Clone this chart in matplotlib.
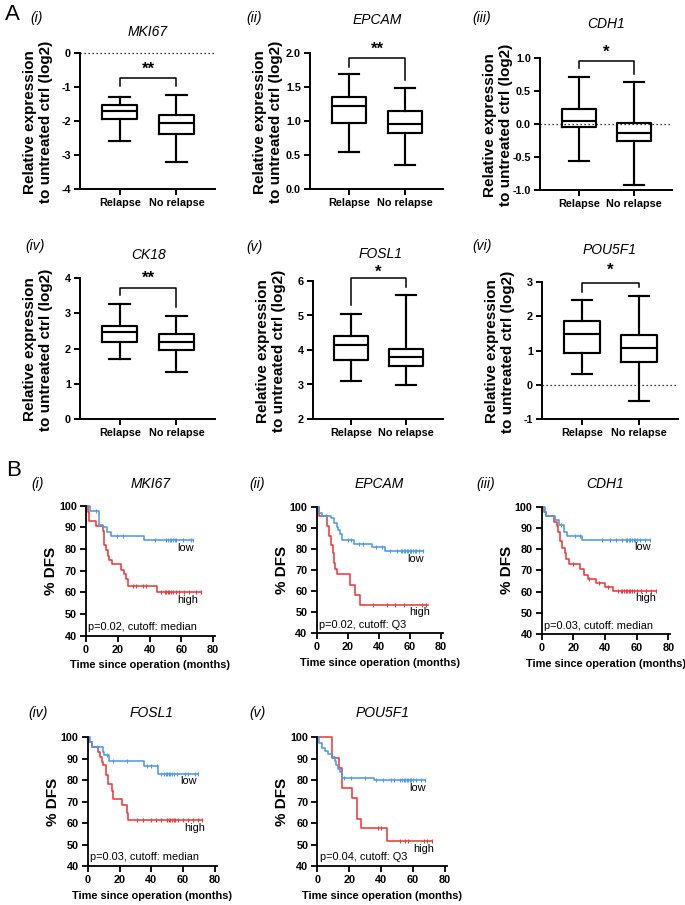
import matplotlib
matplotlib.use('Agg')
import matplotlib.pyplot as plt
from matplotlib.ticker import FormatStrFormatter
import numpy as np

plt.rcParams['font.family'] = ['Liberation Sans', 'DejaVu Sans']
plt.rcParams['axes.unicode_minus'] = False

# ---- panel A: box stats (whisker low, q1, median, q3, whisker high)
box_genes = ['MKI67', 'EPCAM', 'CDH1', 'CK18', 'FOSL1', 'POU5F1']
box_roman = ['(i)', '(ii)', '(iii)', '(iv)', '(v)', '(vi)']
groups = ['Relapse', 'No relapse']

relapse_mki67 = [-2.60, -1.95, -1.72, -1.52, -1.28]
norelapse_mki67 = [-3.20, -2.37, -2.05, -1.83, -1.23]
relapse_epcam = [0.54, 0.97, 1.22, 1.36, 1.69]
norelapse_epcam = [0.36, 0.83, 0.95, 1.14, 1.48]
relapse_cdh1 = [-0.56, -0.04, 0.05, 0.22, 0.71]
norelapse_cdh1 = [-0.92, -0.26, -0.13, 0.01, 0.63]
relapse_ck18 = [1.70, 2.19, 2.46, 2.65, 3.26]
norelapse_ck18 = [1.33, 1.97, 2.19, 2.41, 2.93]
relapse_fosl1 = [3.11, 3.71, 4.14, 4.40, 5.04]
norelapse_fosl1 = [2.99, 3.55, 3.79, 4.03, 5.59]
relapse_pou5f1 = [0.32, 0.92, 1.49, 1.86, 2.47]
norelapse_pou5f1 = [-0.48, 0.66, 1.08, 1.44, 2.58]

box_ylims = [(-4, 0), (0, 2), (-1, 1), (0, 4), (2, 6), (-1, 3)]
box_ysteps = [1, 0.5, 0.5, 1, 1, 1]
box_fmt = ['%d', '%.1f', '%.1f', '%d', '%d', '%d']
# bracket: left arm end, top, right arm end ; star level ; stars
brackets = [(-0.98, -0.75, -0.98), (1.80, 1.93, 1.61), (0.85, 0.95, 0.76),
            (3.52, 3.73, 3.19), (5.30, 6.10, 5.83), (2.71, 2.98, 2.85)]
star_y = [-0.48, 2.06, 1.08, 3.98, 6.24, 3.33]
stars = ['**', '**', '*', '**', '*', '*']
zero_line = [True, False, True, False, False, True]

# ---- panel B: Kaplan-Meier steps (time, %DFS after step), end of follow-up, censored times
km_genes = ['MKI67', 'EPCAM', 'CDH1', 'FOSL1', 'POU5F1']
km_roman = ['(i)', '(ii)', '(iii)', '(iv)', '(v)']
km_ptext = ['p=0.02, cutoff: median', 'p=0.02, cutoff: Q3', 'p=0.03, cutoff: median',
            'p=0.03, cutoff: median', 'p=0.04, cutoff: Q3']

mki67_low_t = [0, 2.5, 8.5, 11, 13, 15.5, 36.3]
mki67_low_s = [100, 97.5, 91.2, 90, 88, 86, 84]
mki67_low_end = 67.4
mki67_low_cens = [6, 19.3, 23.5, 43.4, 50.3, 51.7, 52.8, 53.8, 54.9, 55.9, 57, 61.2, 66.4, 67.4]
mki67_high_t = [0, 1, 2, 6.3, 10.5, 11.5, 12.6, 13.6, 14.6, 16.2, 22, 24, 25, 26.5, 44.7]
mki67_high_s = [100, 97, 93, 90.5, 88.5, 82, 79.5, 77, 75, 73, 70.5, 68.5, 66, 63, 60]
mki67_high_end = 72.5
mki67_high_cens = [29.7, 31.5, 36, 37.7, 47.5, 49.5, 50.5, 51.5, 52.5, 53.5, 54.5, 56.5, 58.5, 61.5, 65, 69.5, 72.5]

epcam_low_t = [0, 1.5, 3.6, 9, 11, 13, 14, 15, 16.5, 24, 35.6, 44]
epcam_low_s = [100, 97, 95.5, 94.5, 92.5, 90.5, 89, 87, 84, 82.5, 80.8, 79.2]
epcam_low_end = 68.7
epcam_low_cens = [6, 20, 22, 27, 30, 38, 42, 47, 52, 54, 55, 56, 57, 58, 59, 60, 61, 62, 63, 64, 66, 68.7]
epcam_high_t = [0, 1.5, 7, 8, 9.5, 10.5, 11.5, 12.2, 13, 21.5, 24.5, 27.7]
epcam_high_s = [100, 95.5, 91, 86, 82, 78, 73.5, 70.5, 68, 63, 58, 53.5]
epcam_high_end = 71.5
epcam_high_cens = [36.5, 45.5, 50.4, 56.2, 67.6, 70.4]

cdh1_low_t = [0, 2, 3, 8.5, 11, 14, 16, 25.6]
cdh1_low_s = [100, 97.5, 95.5, 93.5, 91.5, 88, 86.3, 84.2]
cdh1_low_end = 68.3
cdh1_low_cens = [12, 21, 24, 38, 43, 47, 51, 53, 54, 55, 56, 57, 58, 59, 60, 62, 65, 68.3]
cdh1_high_t = [0, 1.5, 3, 7.5, 9.6, 10.6, 11.7, 13, 14.5, 15.5, 17, 24, 27, 29, 34, 40, 45]
cdh1_high_s = [100, 97.5, 95.5, 93, 91, 88, 84, 80.5, 78, 75.5, 73, 70.5, 68, 66, 64, 62, 60.5]
cdh1_high_end = 72
cdh1_high_cens = [20, 30, 36, 42, 48, 50, 51, 52, 53, 54, 55, 56, 57, 58, 60, 63, 66, 69, 72]

fosl1_low_t = [0, 1.5, 2.5, 9.8, 10.3, 13.6, 35.6, 44.4]
fosl1_low_s = [100, 97.5, 95.3, 93, 91.5, 88.8, 86.4, 83]
fosl1_low_end = 69.5
fosl1_low_cens = [5.7, 12, 16, 24.5, 37, 40, 43.5, 46, 48, 49, 50, 51, 52, 53, 54, 56, 61, 63, 67.5, 69.5]
fosl1_high_t = [0, 1, 2.5, 6.7, 7.7, 8.8, 9.8, 11.5, 13, 15, 16, 21.4, 24.5, 25.5]
fosl1_high_s = [100, 97.5, 95.5, 93, 90.5, 88.5, 87, 82.5, 78.3, 75, 71, 68.5, 64.5, 61.4]
fosl1_high_end = 72
fosl1_high_cens = [31, 35, 40, 43, 46, 50, 51, 52, 53, 54, 55, 57, 60, 63, 66, 69, 72]

pou5f1_low_t = [0, 1, 3, 5, 7, 9, 11, 12, 13, 14, 15.5, 35.7]
pou5f1_low_s = [100, 97, 95, 93.5, 92, 90.5, 89, 87, 85, 83.5, 81, 80]
pou5f1_low_end = 67.4
pou5f1_low_cens = [17, 21, 30, 37, 41, 46, 48, 52, 53, 54, 55, 56, 57, 58, 59, 60, 62, 65, 67.4]
pou5f1_high_t = [0, 9.4, 13.8, 15.2, 15.6, 21.9, 24.6, 25, 27.3, 43.8]
pou5f1_high_s = [100, 90.2, 85.5, 81, 76.4, 71.7, 67, 62, 57.5, 51.4]
pou5f1_high_end = 71.6
pou5f1_high_cens = [38, 40, 52, 55, 57, 67, 69, 71.6]

low_label_xy = [(62.6, 80.5), (63.4, 75.4), (63.4, 80.8), (63.2, 79.5), (62.6, 76.3)]
high_label_xy = [(64, 56.5), (66.5, 50), (65.5, 57), (67.4, 57.8), (66.4, 48.1)]

RED = '#EE3A3A'
BLUE = '#4E9BE6'

W, H = 685, 905
fig = plt.figure(figsize=(W / 100, H / 100), dpi=100)


def px_axes(left, top, right, bottom):
    return fig.add_axes([left / W, 1 - bottom / H, (right - left) / W, (bottom - top) / H])


def ftext(x, y, s, **kw):
    fig.text(x / W, 1 - y / H, s, **kw)


def style_axes(ax, lw=1.4):
    for sp in ['top', 'right']:
        ax.spines[sp].set_visible(False)
    for sp in ['left', 'bottom']:
        ax.spines[sp].set_linewidth(lw)
    ax.tick_params(direction='out', length=4.5, width=lw, color='black')


# ---------------- Panel A ----------------
box_rel = [relapse_mki67, relapse_epcam, relapse_cdh1, relapse_ck18, relapse_fosl1, relapse_pou5f1]
box_norel = [norelapse_mki67, norelapse_epcam, norelapse_cdh1, norelapse_ck18, norelapse_fosl1, norelapse_pou5f1]
box_px = [(80, 53, 215, 189), (310, 53, 443, 189), (540, 58, 672, 190),
          (80, 278, 215, 419), (313, 281, 443, 419), (542, 282, 678, 419)]
roman_px = [(37, 18), (254, 18), (482, 18), (35, 246), (254, 247), (482, 246)]
title_px = [(148, 32), (377, 20), (606, 24), (149, 255), (381, 254), (610, 250)]

ftext(12, 15, 'A', fontsize=16, ha='center', va='center')

for i in range(6):
    l, t, r, b = box_px[i]
    ax = px_axes(l, t, r, b)
    stats = []
    for vals in (box_rel[i], box_norel[i]):
        lo, q1, med, q3, hi = vals
        stats.append(dict(whislo=lo, q1=q1, med=med, q3=q3, whishi=hi, fliers=[]))
    lp = dict(color='black', lw=1.55)
    ax.bxp(stats, positions=[0, 1], widths=0.62, showfliers=False, capwidths=0.36,
           boxprops=lp, whiskerprops=lp, capprops=lp, medianprops=lp)
    lo, hi = box_ylims[i]
    ax.set_ylim(lo, hi)
    ax.set_yticks(np.arange(lo, hi + 1e-9, box_ysteps[i]))
    ax.yaxis.set_major_formatter(FormatStrFormatter(box_fmt[i]))
    ax.set_xlim(-0.7, 1.68)
    ax.set_xticks([0, 1])
    ax.set_xticklabels(groups)
    style_axes(ax)
    ax.tick_params(labelsize=7.8, pad=2)
    for lab in ax.get_xticklabels() + ax.get_yticklabels():
        lab.set_fontweight('bold')
    if zero_line[i]:
        ax.axhline(0, color='black', ls=(0, (1, 2.2)), lw=0.9, clip_on=False)
    la, top, ra = brackets[i]
    ax.plot([0, 0, 1, 1], [la, top, top, ra], color='black', lw=1.1, clip_on=False)
    ax.text(0.5, star_y[i], stars[i], ha='center', va='center', fontsize=12,
            fontweight='bold', clip_on=False)
    ftext(l - 42, (t + b) / 2 + 1, 'Relative expression\nto untreated ctrl (log2)',
          rotation=90, ha='center', va='center', fontsize=11, fontweight='bold',
          linespacing=1.15)
    ftext(*roman_px[i], box_roman[i], fontsize=10, style='italic', ha='center', va='center')
    ftext(*title_px[i], box_genes[i], fontsize=10, style='italic', ha='center', va='center')

# ---------------- Panel B ----------------
km_low = [(mki67_low_t, mki67_low_s, mki67_low_end, mki67_low_cens),
          (epcam_low_t, epcam_low_s, epcam_low_end, epcam_low_cens),
          (cdh1_low_t, cdh1_low_s, cdh1_low_end, cdh1_low_cens),
          (fosl1_low_t, fosl1_low_s, fosl1_low_end, fosl1_low_cens),
          (pou5f1_low_t, pou5f1_low_s, pou5f1_low_end, pou5f1_low_cens)]
km_high = [(mki67_high_t, mki67_high_s, mki67_high_end, mki67_high_cens),
           (epcam_high_t, epcam_high_s, epcam_high_end, epcam_high_cens),
           (cdh1_high_t, cdh1_high_s, cdh1_high_end, cdh1_high_cens),
           (fosl1_high_t, fosl1_high_s, fosl1_high_end, fosl1_high_cens),
           (pou5f1_high_t, pou5f1_high_s, pou5f1_high_end, pou5f1_high_cens)]
km_px = [(86, 505.7, 214.6, 635.7), (316.5, 506.7, 442.5, 633.3), (541.7, 506.7, 670, 634),
         (87.7, 737, 216.6, 866), (317.3, 737, 446.6, 866)]
km_roman_px = [(38, 484), (257, 484), (486, 484), (38, 713), (257, 713)]
km_title_px = [(151, 484), (379, 484), (605, 484), (152, 713), (383, 713)]

ftext(14, 470, 'B', fontsize=16, ha='center', va='center')


def draw_km(ax, curve, color):
    t, s, end, cens = curve
    tt = list(t) + [end]
    ss = list(s) + [s[-1]]
    ax.step(tt, ss, where='post', color=color, lw=1.15, clip_on=False)
    idx = np.searchsorted(t, cens, side='right') - 1
    cy = np.array(s)[idx]
    ax.plot(cens, cy, ls='none', marker='|', ms=3.2, mew=0.8, color=color, clip_on=False)


for i in range(5):
    l, t, r, b = km_px[i]
    ax = px_axes(l, t, r, b)
    draw_km(ax, km_high[i], RED)
    draw_km(ax, km_low[i], BLUE)
    ax.set_xlim(0, 81)
    ax.set_ylim(40, 100)
    ax.set_xticks(np.arange(0, 81, 20))
    ax.set_yticks(np.arange(40, 101, 10))
    style_axes(ax, lw=1.3)
    ax.tick_params(labelsize=7.8, pad=2.5, length=4)
    for lab in ax.get_xticklabels() + ax.get_yticklabels():
        lab.set_fontweight('bold')
    ax.set_xlabel('Time since operation (months)', fontsize=7.9, fontweight='bold', labelpad=4)
    ax.text(1.5, 44, km_ptext[i], fontsize=7.9, ha='left', va='center')
    ax.text(*low_label_xy[i], 'low', fontsize=7.9, ha='center', va='center')
    ax.text(*high_label_xy[i], 'high', fontsize=7.9, ha='center', va='center')
    ftext(l - 35, (t + b) / 2, '% DFS', rotation=90, ha='center', va='center',
          fontsize=11, fontweight='bold')
    ftext(*km_roman_px[i], km_roman[i], fontsize=10, style='italic', ha='center', va='center')
    ftext(*km_title_px[i], km_genes[i], fontsize=10, style='italic', ha='center', va='center')

fig.savefig('out.png', dpi=100)
